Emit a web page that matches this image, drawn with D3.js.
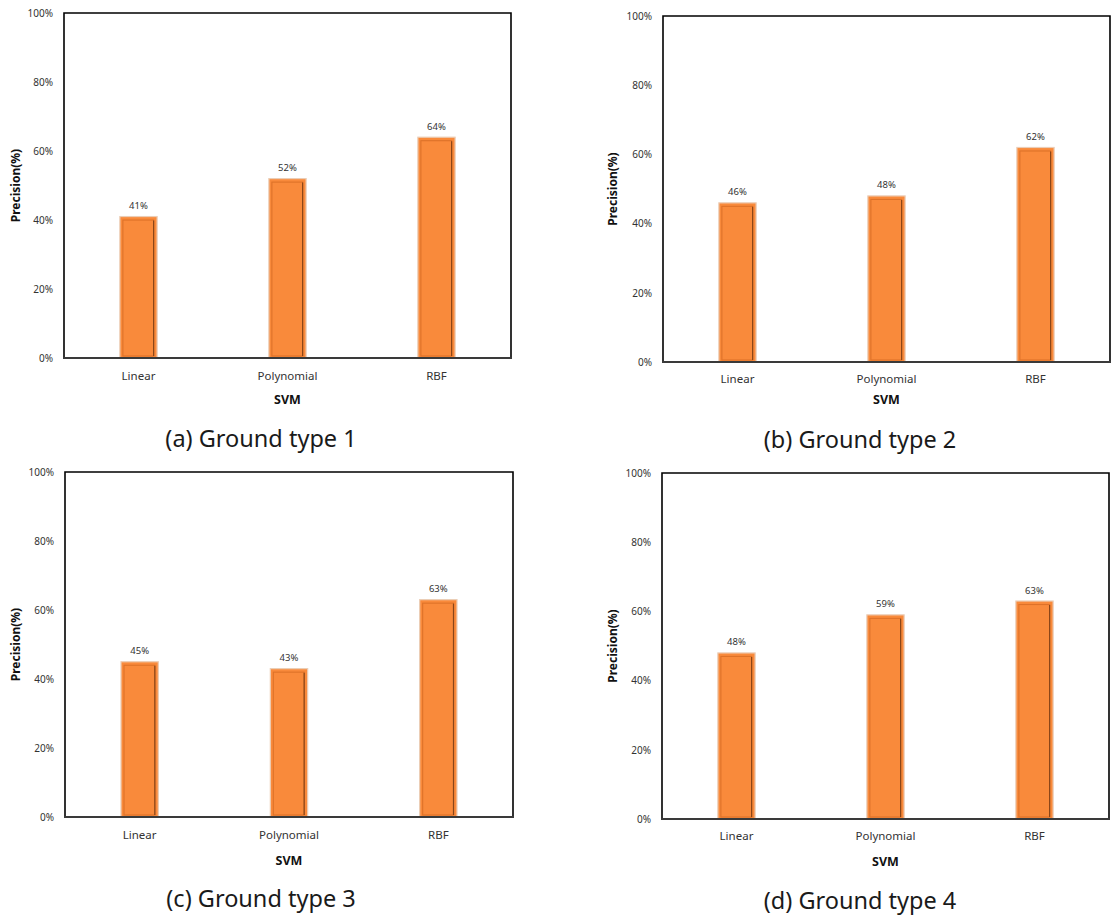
<!DOCTYPE html>
<html>
<head>
<meta charset="utf-8">
<script src="https://cdn.jsdelivr.net/npm/d3@7"></script>
<style>
  html, body { margin: 0; padding: 0; background: #fff; }
  svg { display: block; }
</style>
</head>
<body>
<svg id="chart" width="1114" height="916"></svg>
<script>
// ---------- DATA ----------
const categories = ["Linear", "Polynomial", "RBF"];
const groundType1 = [41, 52, 64];
const groundType2 = [46, 48, 62];
const groundType3 = [45, 43, 63];
const groundType4 = [48, 59, 63];
const yTicks = [0, 20, 40, 60, 80, 100];
const captions = ["(a) Ground type 1", "(b) Ground type 2", "(c) Ground type 3", "(d) Ground type 4"];
const xTitle = "SVM";
const yTitle = "Precision(%)";

// ---------- LAYOUT ----------
const panels = [
  { values: groundType1, caption: captions[0], left: 64,  right: 511,  top: 13,  bottom: 358, yTitleX: 17,  catY: 377, svmY: 401, capX: 261, capY: 441 },
  { values: groundType2, caption: captions[1], left: 663, right: 1110, top: 16,  bottom: 362, yTitleX: 614, catY: 380, svmY: 401, capX: 860, capY: 442 },
  { values: groundType3, caption: captions[2], left: 65,  right: 513,  top: 472, bottom: 817, yTitleX: 17,  catY: 836, svmY: 862, capX: 261, capY: 901 },
  { values: groundType4, caption: captions[3], left: 662, right: 1109, top: 473, bottom: 819, yTitleX: 614, catY: 837, svmY: 863, capX: 860, capY: 903 }
];

const svg = d3.select("#chart");
const FONT = "'Noto Sans', 'Open Sans', sans-serif";

panels.forEach(p => {
  const g = svg.append("g");
  const x = d3.scaleBand().domain(categories).range([p.left, p.right]).padding(0);
  const y = d3.scaleLinear().domain([0, 100]).range([p.bottom, p.top]);
  const bw = x.bandwidth() * 0.25;

  // frame (left, top, right)
  g.append("path")
    .attr("d", `M${p.left},${p.bottom} V${p.top} H${p.right} V${p.bottom}`)
    .attr("fill", "none").attr("stroke", "#000").attr("stroke-width", 1.6);

  // y axis ticks
  const yAxis = d3.axisLeft(y).tickValues(yTicks).tickSize(0).tickPadding(11)
    .tickFormat(d => d + "%");
  const ya = g.append("g").attr("transform", `translate(${p.left},0)`).call(yAxis);
  ya.select(".domain").remove();
  ya.selectAll("text").attr("font-family", FONT).attr("font-size", 10).attr("fill", "#333");

  // bars
  const data = categories.map((c, i) => ({ c, v: p.values[i] }));
  const bars = g.selectAll(".bar").data(data).enter().append("g");
  bars.append("rect")
    .attr("x", d => x(d.c) + (x.bandwidth() - bw) / 2)
    .attr("y", d => y(d.v))
    .attr("width", bw)
    .attr("height", d => p.bottom - y(d.v))
    .attr("fill", "#F98A3B")
    .attr("stroke", "#EBCDB6").attr("stroke-width", 1.2);
  bars.append("rect")
    .attr("x", d => x(d.c) + (x.bandwidth() - bw) / 2 + 3)
    .attr("y", d => y(d.v) + 3.5)
    .attr("width", bw - 6.5)
    .attr("height", d => p.bottom - y(d.v) - 5.5)
    .attr("fill", "none")
    .attr("stroke", "#DE7229").attr("stroke-width", 1.1);
  bars.append("line")
    .attr("x1", d => x(d.c) + (x.bandwidth() + bw) / 2 - 3.5)
    .attr("x2", d => x(d.c) + (x.bandwidth() + bw) / 2 - 3.5)
    .attr("y1", d => y(d.v) + 4)
    .attr("y2", p.bottom - 2)
    .attr("stroke", "#8A4518").attr("stroke-width", 1.2);

  // value labels
  bars.append("text")
    .attr("x", d => x(d.c) + x.bandwidth() / 2)
    .attr("y", d => y(d.v) - 10)
    .attr("text-anchor", "middle").attr("dominant-baseline", "middle")
    .attr("font-family", FONT).attr("font-size", 9.5).attr("fill", "#333")
    .text(d => d.v + "%");

  // bottom axis line
  g.append("line")
    .attr("x1", p.left - 1).attr("x2", p.right + 1)
    .attr("y1", p.bottom).attr("y2", p.bottom)
    .attr("stroke", "#3a3a3a").attr("stroke-width", 2);

  // category labels
  g.selectAll(".cat").data(categories).enter().append("text")
    .attr("x", d => x(d) + x.bandwidth() / 2)
    .attr("y", p.catY)
    .attr("text-anchor", "middle").attr("dominant-baseline", "middle")
    .attr("font-family", FONT).attr("font-size", 11.5).attr("fill", "#333")
    .text(d => d);

  // x title
  g.append("text")
    .attr("x", (p.left + p.right) / 2).attr("y", p.svmY)
    .attr("text-anchor", "middle").attr("dominant-baseline", "middle")
    .attr("font-family", FONT).attr("font-size", 12.5).attr("font-weight", "bold").attr("fill", "#111")
    .text(xTitle);

  // y title
  g.append("text")
    .attr("transform", `translate(${p.yTitleX},${(p.top + p.bottom) / 2}) rotate(-90)`)
    .attr("text-anchor", "middle").attr("dominant-baseline", "middle")
    .attr("font-family", FONT).attr("font-size", 12).attr("font-weight", "bold").attr("fill", "#111")
    .text(yTitle);

  // caption
  g.append("text")
    .attr("x", p.capX).attr("y", p.capY)
    .attr("text-anchor", "middle").attr("dominant-baseline", "middle")
    .attr("font-family", FONT).attr("font-size", 23.5).attr("fill", "#1a1a1a")
    .text(p.caption);
});
</script>
</body>
</html>
